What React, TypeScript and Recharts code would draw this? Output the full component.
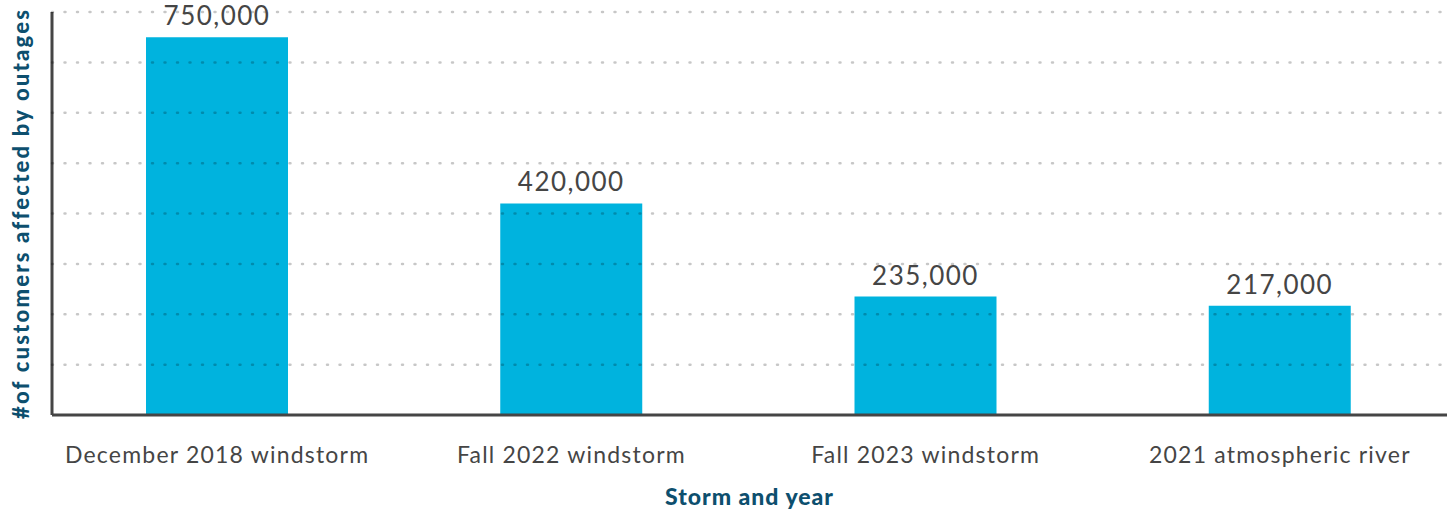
import { Bar, BarChart, Label, LabelList, ReferenceLine, XAxis, YAxis } from "recharts";

document.body.style.margin = "0";

const STORMS = [
  "December 2018 windstorm",
  "Fall 2022 windstorm",
  "Fall 2023 windstorm",
  "2021 atmospheric river",
];
const CUSTOMERS = [750000, 420000, 235000, 217000];
const Y_TICKS = [0, 100000, 200000, 300000, 400000, 500000, 600000, 700000, 800000];

const data = STORMS.map((storm, i) => ({ storm, customers: CUSTOMERS[i] }));

const FONT = "Lato, 'Noto Sans', sans-serif";
const TEAL = "#0d4f6e";
const INK = "#454545";

export default function App() {
  return (
    <div style={{ width: 1455, height: 509, background: "#fff", fontFamily: FONT }}>
      <BarChart
        width={1455}
        height={509}
        data={data}
        margin={{ top: 12, right: 8, bottom: 0, left: 12 }}
      >
        <XAxis
          dataKey="storm"
          height={94}
          padding={{ left: -12, right: -10 }}
          axisLine={{ stroke: INK, strokeWidth: 3 }}
          tickLine={false}
          tickMargin={26}
          tick={{ fontSize: 23, fill: INK, fontFamily: FONT, letterSpacing: 1.2 }}
          interval={0}
        >
          <Label
            value="Storm and year"
            position="insideBottom"
            offset={4}
            style={{ fontSize: 23, fontWeight: 900, fill: TEAL, fontFamily: FONT, letterSpacing: 1 }}
          />
        </XAxis>
        <YAxis
          width={40}
          domain={[0, 800000]}
          ticks={Y_TICKS}
          tick={false}
          tickLine={false}
          axisLine={{ stroke: INK, strokeWidth: 3 }}
        >
          <Label
            content={({ viewBox }: any) => {
              const cx = viewBox.x + 8;
              const cy = viewBox.y + viewBox.height / 2;
              return (
                <text
                  x={cx}
                  y={cy}
                  transform={`rotate(-90 ${cx} ${cy})`}
                  textAnchor="middle"
                  dominantBaseline="central"
                  style={{ fontSize: 22, fontWeight: 900, fill: TEAL, fontFamily: FONT, letterSpacing: 2.2 }}
                >
                  #of customers affected by outages
                </text>
              );
            }}
          />
        </YAxis>
        <Bar dataKey="customers" fill="#00b3de" barSize={142} isAnimationActive={false}>
          <LabelList
            dataKey="customers"
            position="top"
            offset={12}
            formatter={(v: any) => Number(v).toLocaleString("en-US")}
            style={{ fontSize: 26, fill: INK, fontFamily: FONT, letterSpacing: 1.5 }}
          />
        </Bar>
        {Y_TICKS.slice(1).map((t) => (
          <ReferenceLine
            key={t}
            y={t}
            zIndex={1000}
            stroke="rgba(0,0,0,0.22)"
            strokeWidth={2.5}
            strokeDasharray="1 11.5"
            strokeLinecap="round"
          />
        ))}
      </BarChart>
    </div>
  );
}
